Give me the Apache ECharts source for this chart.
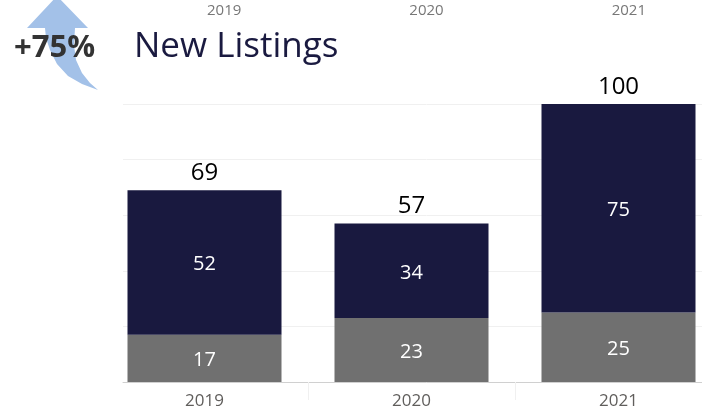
<!DOCTYPE html>
<html>
<head>
<meta charset="utf-8">
<script src="https://cdn.jsdelivr.net/npm/echarts@6/dist/echarts.min.js"></script>
<style>
  html, body { margin: 0; padding: 0; background: #fff; overflow: hidden; }
  /* wider than the window: the original chart is cut off on the right */
  #main { width: 740px; height: 408px; }
</style>
</head>
<body>
<div id="main"></div>
<script>
// data
var years = ['2019', '2020', '2021'];
var lower = [17, 23, 25];   // grey part
var upper = [52, 34, 75];   // navy part
var totals = years.map(function (y, i) { return lower[i] + upper[i]; });
var yMax = 100;
var yStep = 20;

var font = 'Open Sans';
var chart = echarts.init(document.getElementById('main'));

// curved arrow behind the +75%
var arrowPts = [
  [27, 28], [57, -4], [88, 28], [75, 28], [74, 45], [76, 60], [82, 73], [90, 83], [98, 90],
  [82, 84], [68, 76], [57, 64], [50, 50], [46, 38], [45, 28]
];

var option = {
  animation: false,
  textStyle: { fontFamily: font },
  grid: [
    // bars
    { left: 101, right: 18, top: 104, bottom: 26, outerBoundsMode: 'none' },
    // gridlines, axis line, top year labels
    { left: 123, right: 10, top: 104, bottom: 26, outerBoundsMode: 'none' }
  ],
  xAxis: [
    {
      type: 'category', gridIndex: 0, data: years,
      axisLine: { show: false },
      axisTick: {
        show: true, length: 18, lineStyle: { color: '#f0f0f0' },
        interval: function (i) { return i > 0; }
      },
      axisLabel: { color: '#605e5c', fontSize: 17, margin: 11 }
    },
    {
      type: 'category', gridIndex: 1, data: years, position: 'bottom',
      axisLine: { show: true, lineStyle: { color: '#d0d0d0', width: 1 } },
      axisTick: { show: false },
      axisLabel: { show: false }
    },
    {
      type: 'category', gridIndex: 1, data: years, position: 'top', offset: 86,
      axisLine: { show: false },
      axisTick: { show: false },
      axisLabel: { color: '#777', fontSize: 15, margin: 0 }
    }
  ],
  yAxis: [
    { type: 'value', gridIndex: 0, min: 0, max: yMax, interval: yStep, show: false },
    {
      type: 'value', gridIndex: 1, min: 0, max: yMax, interval: yStep,
      axisLine: { show: false }, axisTick: { show: false }, axisLabel: { show: false },
      splitLine: { lineStyle: { color: '#f0f0f0' } }
    }
  ],
  series: [
    {
      type: 'bar', stack: 'a', data: lower, barWidth: 154,
      itemStyle: { color: '#707070' },
      label: { show: true, position: 'inside', offset: [0, 2], color: '#fff', fontSize: 20 }
    },
    {
      type: 'bar', stack: 'a', data: upper,
      itemStyle: { color: '#19193f' },
      label: { show: true, position: 'inside', offset: [0, 2], color: '#fff', fontSize: 20 }
    },
    {
      // totals above the stacks
      type: 'scatter', data: totals, symbolSize: 0,
      itemStyle: { opacity: 1, color: 'transparent' },
      label: { show: true, position: 'top', distance: 5, color: '#000', fontSize: 24 }
    }
  ],
  graphic: [
    {
      type: 'polygon', z: 1,
      shape: { points: arrowPts, smooth: 0 },
      style: { fill: '#a3c1e8' }
    },
    {
      type: 'text', z: 2,
      style: {
        text: '+75%', x: 14, y: 48, verticalAlign: 'middle',
        fill: '#333', fontSize: 31, fontWeight: 'bold', fontFamily: font
      }
    },
    {
      type: 'text', z: 2,
      style: {
        text: 'New Listings', x: 134, y: 47, verticalAlign: 'middle',
        fill: '#1a1a40', fontSize: 35, fontFamily: font
      }
    }
  ]
};

chart.setOption(option);
</script>
</body>
</html>
